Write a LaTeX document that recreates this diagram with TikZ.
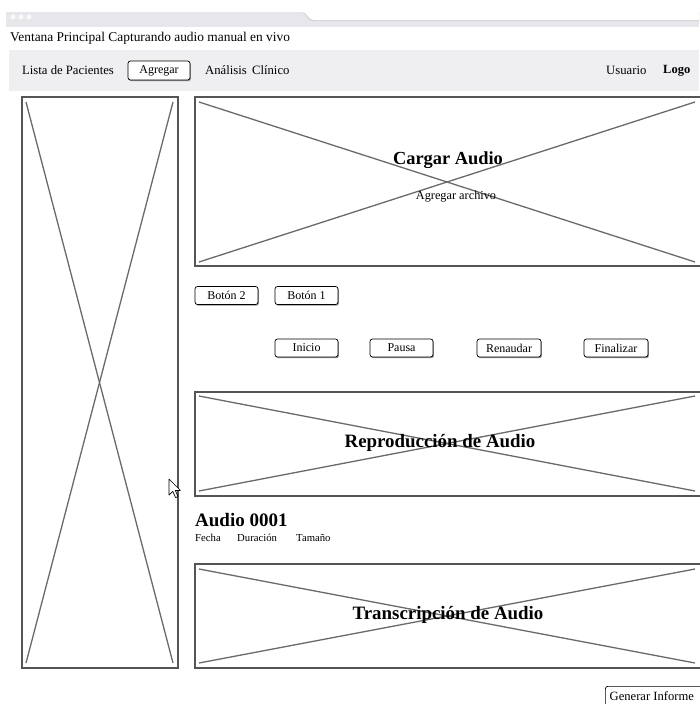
\documentclass[tikz,border=0pt]{standalone}
\usepackage{fontspec}
\setmainfont{Liberation Serif}
\usetikzlibrary{shadows}
\definecolor{chrome}{HTML}{E7E7EB}
\definecolor{navbg}{HTML}{EFEFF1}
\definecolor{frame}{HTML}{555555}
\definecolor{crossline}{HTML}{6A6A6A}
\tikzset{
  btn/.style={draw=black, line width=0.7pt, rounded corners=2.5pt, fill=white,
    inner sep=0pt, minimum height=18pt, font=\fontsize{12}{13}\selectfont,
    drop shadow={shadow xshift=0.9pt, shadow yshift=-1.2pt, fill=gray!85, opacity=1}},
  placeholder/.style={draw=frame, line width=1.1pt},
  cross/.style={draw=crossline, line width=1.3pt},
  navtext/.style={anchor=west, inner sep=0pt, font=\fontsize{12.7}{14}\selectfont},
  heading/.style={inner sep=0pt, font=\fontsize{18.4}{20}\selectfont\bfseries},
}
\begin{document}
\begin{tikzpicture}[x=1pt,y=-1pt]
\useasboundingbox (0,0) rectangle (699,704);
\fill[white] (0,0) rectangle (699,704);

% browser chrome with the active tab
\fill[chrome] (6,12) rectangle (699,27);
\fill[gray!35] (302,12) .. controls (306,12) and (306,21) .. (314,21) -- (699,21) -- (699,12) -- cycle;
\fill[white] (303,12) .. controls (307,12) and (307,20) .. (315,20) -- (699,20) -- (699,12) -- cycle;
\foreach \cx in {13,21,29} \fill[white!70!chrome] (\cx,17) circle (2.6);

% window title
\node[anchor=west, inner sep=0pt, font=\fontsize{13.4}{15}\selectfont] (title) at (10,38)
  {Ventana Principal Capturando audio manual en vivo};

% navigation bar
\fill[navbg] (9,50) rectangle (699,91);
\node[navtext] (pacientes) at (22,70) {Lista de Pacientes};
\node[btn, minimum width=62pt, minimum height=19pt] (agregar) at (159,70.5) {Agregar};
\node[navtext] (analisis) at (205,70) {Análisis\, Clínico};
\node[navtext] (usuario) at (606,70) {Usuario};
\node[navtext, font=\fontsize{12.5}{14}\selectfont\bfseries] (logo) at (663,70.5) {Logo};

% left panel
\draw[placeholder] (22,97) rectangle (178,668);
\draw[cross] (26,102) -- (173,663);
\draw[cross] (173,102) -- (26,663);

% audio upload area
\draw[placeholder] (699.6,97) -- (195,97) -- (195,266) -- (699.6,266);
\draw[cross] (199,102) -- (695,262);
\draw[cross] (199,262) -- (695,102);
\node[heading] (cargar) at (448,160) {Cargar Audio};
\node[inner sep=0pt, font=\fontsize{12.3}{14}\selectfont] (archivo) at (456,197) {Agregar archivo};

% buttons
\node[btn, minimum width=63pt] (boton2) at (226.5,295.5) {Botón 2};
\node[btn, minimum width=63pt] (boton1) at (306.5,295.5) {Botón 1};
\node[btn, minimum width=63pt] (inicio) at (306.5,348) {Inicio};
\node[btn, minimum width=63pt] (pausa) at (401.5,348) {Pausa};
\node[btn, minimum width=64pt] (renaudar) at (509,348) {Renaudar};
\node[btn, minimum width=64pt] (finalizar) at (616,348) {Finalizar};

% playback area
\draw[placeholder] (699.6,392) -- (195,392) -- (195,496) -- (699.6,496);
\draw[cross] (199,396) -- (695,491);
\draw[cross] (199,491) -- (695,396);
\node[heading, font=\fontsize{18.9}{20}\selectfont\bfseries] (reproduccion) at (440,443) {Reproducción de Audio};

% mouse pointer
\draw[fill=white, line width=0.7pt, line join=round]
  (169,479) -- (169,495) -- (172.8,491.4) -- (175.6,497.6) -- (178,496.6) -- (175.3,490.4) -- (180.4,490.4) -- cycle;

% audio details
\node[anchor=west, inner sep=0pt, font=\fontsize{19}{21}\selectfont\bfseries] (audioid) at (195,520) {Audio 0001};
\node[anchor=west, inner sep=0pt, font=\fontsize{10.7}{12}\selectfont] (fecha) at (195,538) {Fecha};
\node[anchor=west, inner sep=0pt, font=\fontsize{10.7}{12}\selectfont] (duracion) at (237,538) {Duración};
\node[anchor=west, inner sep=0pt, font=\fontsize{10.7}{12}\selectfont] (tamano) at (296,538) {Tamaño};

% transcription area
\draw[placeholder] (699.6,564) -- (195,564) -- (195,668) -- (699.6,668);
\draw[cross] (199,569) -- (695,663);
\draw[cross] (199,663) -- (695,569);
\node[heading, font=\fontsize{18.9}{20}\selectfont\bfseries] (transcripcion) at (448,615) {Transcripción de Audio};

% report button
\node[btn, minimum width=98pt, minimum height=20pt, anchor=north west, font=\fontsize{12.6}{14}\selectfont] (informe) at (605,686) {\hspace*{-5pt}Generar Informe};
\end{tikzpicture}
\end{document}
